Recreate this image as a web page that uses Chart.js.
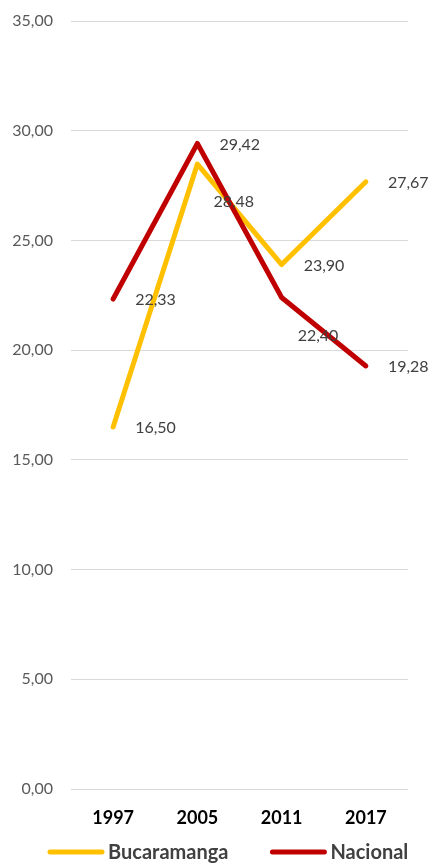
<!DOCTYPE html>
<html>
<head>
<meta charset="utf-8">
<script src="https://cdn.jsdelivr.net/npm/chart.js@4/dist/chart.umd.min.js"></script>
<style>
html,body{margin:0;padding:0;background:#fff;}
#wrap{width:432px;height:863px;position:relative;}
</style>
</head>
<body>
<div id="wrap"><canvas id="c" width="432" height="863"></canvas></div>
<script>
// ---- data ----
const years = ['1997', '2005', '2011', '2017'];
const bucaramanga = [16.50, 28.48, 23.90, 27.67];
const nacional = [22.33, 29.42, 22.40, 19.28];
const seriesNames = ['Bucaramanga', 'Nacional'];
const yMin = 0, yMax = 35, yStep = 5;
// label placement per point (style)
const bucaramangaLabelPos = ['right', 'below', 'right', 'right'];
const nacionalLabelPos = ['right', 'right', 'below', 'right'];

const fmt = v => v.toFixed(2).replace('.', ',');
const FONT = 'Lato';

const labelPlugin = {
  id: 'pointLabels',
  afterDatasetsDraw(chart) {
    const ctx = chart.ctx;
    ctx.save();
    ctx.font = '16px ' + FONT;
    ctx.fillStyle = '#404040';
    ctx.textAlign = 'left';
    ctx.textBaseline = 'middle';
    chart.data.datasets.forEach((ds, di) => {
      const meta = chart.getDatasetMeta(di);
      meta.data.forEach((pt, i) => {
        const pos = ds.labelPos[i];
        let dx = 22, dy = 1;
        if (pos === 'below') { dx = 16; dy = 38; }
        ctx.fillText(fmt(ds.data[i]), pt.x + dx, pt.y + dy);
      });
    });
    ctx.restore();
  }
};

// legend drawn from dataset names/colours
const legendPlugin = {
  id: 'bottomLegend',
  afterDraw(chart) {
    const ctx = chart.ctx;
    ctx.save();
    ctx.font = 'bold 20px ' + FONT;
    ctx.textAlign = 'left';
    ctx.textBaseline = 'middle';
    const y = 852;
    let x = 50;
    chart.data.datasets.forEach(ds => {
      ctx.strokeStyle = ds.borderColor;
      ctx.lineWidth = 5;
      ctx.lineCap = 'round';
      ctx.beginPath();
      ctx.moveTo(x, y);
      ctx.lineTo(x + 52, y);
      ctx.stroke();
      ctx.fillStyle = '#404040';
      ctx.fillText(ds.label, x + 58, y + 1);
      x += 58 + ctx.measureText(ds.label).width + 44;
    });
    ctx.restore();
  }
};

new Chart(document.getElementById('c'), {
  type: 'line',
  data: {
    labels: years,
    datasets: [
      {
        label: seriesNames[0],
        data: bucaramanga,
        labelPos: bucaramangaLabelPos,
        borderColor: '#FFC000',
        backgroundColor: '#FFC000',
        borderWidth: 5,
        pointRadius: 0,
        tension: 0,
        borderCapStyle: 'round',
        borderJoinStyle: 'round',
        order: 1
      },
      {
        label: seriesNames[1],
        data: nacional,
        labelPos: nacionalLabelPos,
        borderColor: '#C00000',
        backgroundColor: '#C00000',
        borderWidth: 5,
        pointRadius: 0,
        tension: 0,
        borderCapStyle: 'round',
        borderJoinStyle: 'round',
        order: 0
      }
    ]
  },
  options: {
    responsive: false,
    animation: false,
    devicePixelRatio: 1,
    layout: { padding: { top: 21, right: 24, left: 0, bottom: 0 } },
    scales: {
      x: {
        offset: true,
        grid: { display: false, drawTicks: false },
        border: { display: false },
        ticks: { color: '#000', font: { family: FONT, size: 18, weight: 'bold' }, padding: 18, maxRotation: 0 },
        afterFit(s) { s.height = 74; s.paddingLeft = 0; s.paddingRight = 0; }
      },
      y: {
        min: yMin, max: yMax,
        grid: { color: '#d9d9d9', lineWidth: 1, drawTicks: false },
        border: { display: false },
        ticks: {
          stepSize: yStep,
          color: '#595959',
          font: { family: FONT, size: 16 },
          padding: 18,
          callback: v => fmt(v)
        },
        afterFit(s) { s.width = 71; s.paddingTop = 0; s.paddingBottom = 0; }
      }
    },
    plugins: {
      tooltip: { enabled: false },
      legend: { display: false }
    }
  },
  plugins: [labelPlugin, legendPlugin]
});
</script>
</body>
</html>
